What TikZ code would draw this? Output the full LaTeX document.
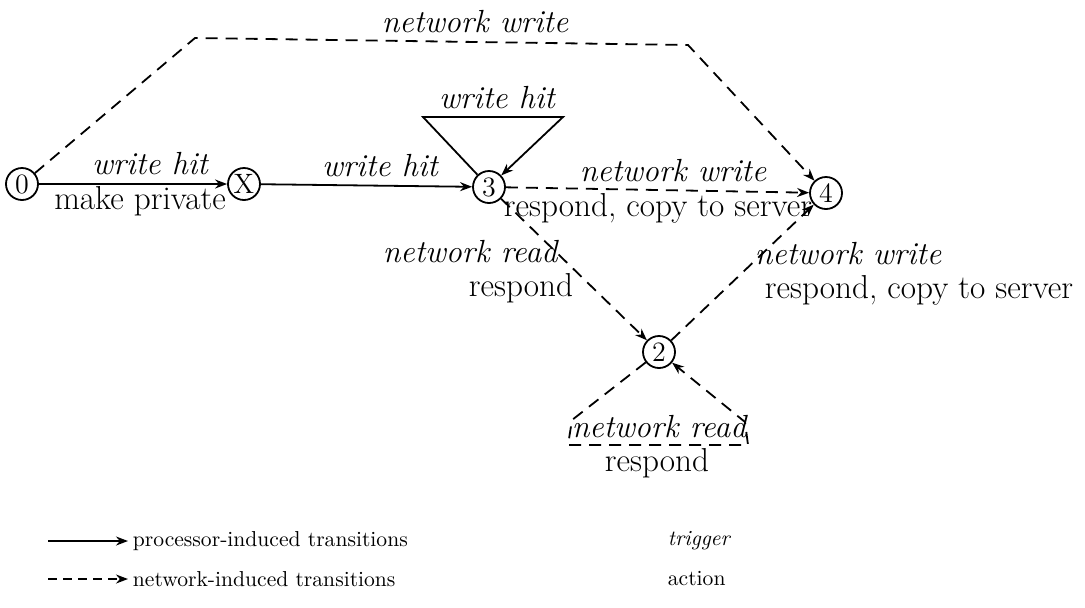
\documentclass[tikz,border=0pt]{standalone}
\usetikzlibrary{arrows.meta}
\begin{document}
\begin{tikzpicture}[x=0.5pt,y=-0.5pt,
  every path/.style={line width=0.9pt},
  state/.style={circle,draw,line width=0.9pt,minimum size=16pt,inner sep=0pt,font=\fontsize{14}{14}\selectfont},
  trig/.style={font=\fontsize{16}{18}\selectfont\itshape,inner sep=0pt},
  act/.style={font=\fontsize{16.6}{19}\selectfont,inner sep=0pt},
  legtext/.style={font=\fontsize{10.8}{13}\selectfont,inner sep=0pt},
  proc/.style={-{Stealth[length=6pt,width=4.5pt]}},
  net/.style={dash pattern=on 6pt off 4pt,-{Stealth[length=6pt,width=4.5pt]}}]
\useasboundingbox (0,0) rectangle (1085,607);

% states
\node[state] (n0) at (22,184) {0};
\node[state] (nX) at (244,184) {X};
\node[state] (n3) at (489,187) {3};
\node[state] (n4) at (826,193) {4};
\node[state] (n2) at (659,352) {2};

% bend points
\coordinate (t1) at (195,38);
\coordinate (t2) at (688,45);
\coordinate (l1) at (423,117);
\coordinate (l2) at (563,117);
\coordinate (b1) at (572,420);
\coordinate (b2) at (568,445);
\coordinate (b3) at (748,445);
\coordinate (b4) at (745,422);

% processor-induced transitions
\draw[proc] (n0) -- (nX);
\draw[proc] (nX) -- (n3);
\draw[proc] (n3) -- (l1) -- (l2) -- (n3);

% network-induced transitions
\draw[net] (n0) -- (t1) -- (t2) -- (n4);
\draw[net] (n3) -- (n4);
\draw[net] (n3) -- (n2);
\draw[net] (n2) -- (n4);
\draw[net] (n2) -- (b1) -- (b2) -- (b3) -- (b4) -- (n2);

% labels
\node[trig] (lab01t) at (150,164) {write hit};
\node[act]  (lab01a) at (140,201) {make private};
\node[trig] (labX3)  at (380,166) {write hit};
\node[trig] (lab33)  at (497,98) {write hit};
\node[trig] (lab04)  at (475,22)  {network write};
\node[trig] (lab34t) at (673,171) {network write};
\node[act]  (lab34a) at (658,208) {respond, copy to server};
\node[trig] (lab32t) at (470,252) {network read};
\node[act]  (lab32a) at (521,288) {respond};
\node[trig] (lab24t) at (848,254) {network write};
\node[act]  (lab24a) at (919,290) {respond, copy to server};
\node[trig] (lab22t) at (659,427) {network read};
\node[act]  (lab22a) at (657,463) {respond};

% legend
\coordinate (ps) at (48,541);
\coordinate (pe) at (128,541);
\coordinate (ns) at (48,579);
\coordinate (ne) at (128,579);
\draw[proc] (ps) -- (pe);
\draw[net,dash pattern=on 4.5pt off 3pt] (ns) -- (ne);
\node[legtext,anchor=west] (legp) at (132,541) {processor-induced transitions};
\node[legtext,anchor=west] (legn) at (132,579) {network-induced transitions};
\node[legtext,anchor=west,font=\fontsize{10.8}{13}\selectfont\itshape] (legt) at (667,541) {trigger};
\node[legtext,anchor=west] (lega) at (667,579) {action};
\end{tikzpicture}
\end{document}
